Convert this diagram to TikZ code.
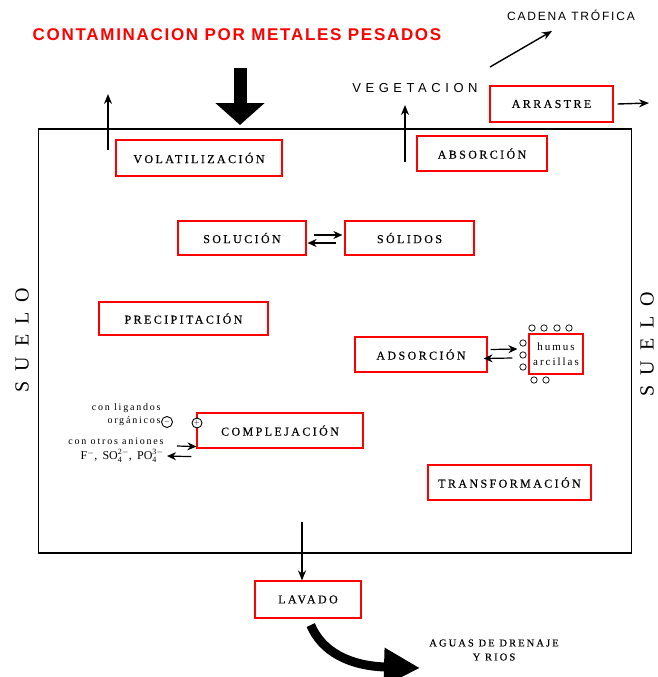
\documentclass[tikz,border=0pt]{standalone}
\usepackage{fontspec}
\setmainfont{Liberation Serif}
\newfontfamily\boxfont[LetterSpace=20,FakeBold=0.3]{Liberation Serif}
\newfontfamily\smallfont[LetterSpace=18]{Liberation Serif}
\newfontfamily\titlefont[LetterSpace=10]{Liberation Sans}
\newfontfamily\vegfont[LetterSpace=35]{Liberation Sans}
\newfontfamily\cadenafont[LetterSpace=15]{Liberation Sans}
\newfontfamily\suelofont[LetterSpace=50]{Liberation Serif}
\usetikzlibrary{arrows.meta}

\tikzset{
  caja/.style={draw=red, line width=1.2pt, rectangle, inner sep=0pt,
    font=\boxfont\fontsize{12}{14}\selectfont},
  flecha/.style={-{Stealth[length=10pt,width=8pt]}, line width=1.4pt},
  equil/.style={-{Stealth[length=9pt,width=8pt]}, line width=1.2pt},
}

\begin{document}
\begin{tikzpicture}[x=1pt, y=-1pt, thick]
        \useasboundingbox (0,0) rectangle (658,677);

        % Suelo
        \node (suelo) [draw, line width=1.6pt, minimum width=593pt, minimum height=424pt, inner sep=0pt] at (335,341) {};
        \node (sueloizq) [rotate=90, font=\suelofont\fontsize{20}{22}\selectfont] at (22,340) {SUELO};
        \node (sueloder) [rotate=90, font=\suelofont\fontsize{20}{22}\selectfont] at (647,344) {SUELO};

        % Titulos
        \node (titulo) [text=red, font=\titlefont\bfseries\fontsize{17}{19}\selectfont] at (237,35) {CONTAMINACION POR METALES PESADOS};
        \node (vegetacion) [font=\vegfont\fontsize{13}{15}\selectfont] at (415,88) {VEGETACION};
        \node (cadena) [font=\cadenafont\fontsize{12}{14}\selectfont] at (571,15) {CADENA TRÓFICA};

        % Cajas
        \node (volat) [caja, minimum width=166pt, minimum height=36pt] at (199,158) {VOLATILIZACIÓN};
        \node (absorc) [caja, minimum width=130pt, minimum height=35pt] at (482,153.5) {ABSORCIÓN};
        \node (arrastre) [caja, minimum width=123pt, minimum height=36pt] at (551.5,104) {ARRASTRE};
        \node (solucion) [caja, minimum width=128pt, minimum height=34pt] at (242,238) {SOLUCIÓN};
        \node (solidos) [caja, minimum width=129pt, minimum height=34pt] at (409.5,238) {SÓLIDOS};
        \node (precip) [caja, minimum width=169pt, minimum height=33pt] at (183.5,318.5) {PRECIPITACIÓN};
        \node (adsorc) [caja, minimum width=132pt, minimum height=35pt] at (421,354.5) {ADSORCIÓN};
        \node (humus) [caja, minimum width=54pt, minimum height=40pt, align=center, font=\smallfont\fontsize{11}{15}\selectfont] at (556,354) {humus\\arcillas};
        \node (complej) [caja, minimum width=166pt, minimum height=35pt] at (280,430.5) {COMPLEJACIÓN};
        \node (transf) [caja, minimum width=163pt, minimum height=35pt] at (509.5,482.5) {TRANSFORMACIÓN};
        \node (lavado) [caja, minimum width=106pt, minimum height=37pt] at (308,599.5) {LAVADO};
        \node (aguas) [align=center, font=\boxfont\fontsize{10.5}{14}\selectfont] at (494,650) {AGUAS DE DRENAJE\\Y RIOS};

        % Complejacion
        \node (ligandos) [anchor=east, align=right, inner sep=0pt, font=\smallfont\fontsize{10}{13}\selectfont] at (161,415) {con ligandos\\orgánicos};
        \node (menos) [draw, circle, line width=0.9pt, inner sep=0pt, minimum size=11pt, font=\scriptsize] at (167,422) {$-$};
        \node (mas) [draw, circle, fill=white, line width=0.9pt, inner sep=0pt, minimum size=10pt, font=\scriptsize] at (197,423) {$+$};
        \node (aniones) [anchor=east, align=right, inner sep=0pt, font=\smallfont\fontsize{10}{15}\selectfont] at (164,450) {con otros aniones\\\fontsize{12}{15}\selectfont$\mathrm{F^{-}}$,\ $\mathrm{SO_4^{2-}}$,\ $\mathrm{PO_4^{3-}}$};

        % Bolitas
        \foreach \x in {532,544,557,569}
            \draw[line width=0.7pt] (\x,328) circle (3.2pt);
        \foreach \y in {343,355,367}
            \draw[line width=0.7pt] (523,\y) circle (3.2pt);
        \foreach \x in {534,546}
            \draw[line width=0.7pt] (\x,380) circle (3.2pt);

        % Coordenadas
        \coordinate (caida) at (240,68);
        \coordinate (entrada) at (240,125);
        \coordinate (volat0) at (108,150);
        \coordinate (volat1) at (108,94);
        \coordinate (absorc0) at (405,162);
        \coordinate (absorc1) at (405,105);
        \coordinate (trofica0) at (490,67);
        \coordinate (trofica1) at (552,31);
        \coordinate (fuera) at (649,103);
        \coordinate (lavado0) at (302,522);

        % Flechas
        \draw[line width=13pt, -{Triangle[length=22pt,width=48pt]}] (caida) -- (entrada);
        \draw[flecha] (volat0) -- (volat1);
        \draw[flecha, line width=1.8pt] (absorc0) -- (absorc1);
        \draw[flecha] (trofica0) -- (trofica1);
        \draw[flecha] ([xshift=4pt]arrastre.east) -- (fuera);
        \draw[flecha] (lavado0) -- (lavado0 |- lavado.north);
        \draw[line width=9pt, -{Triangle[length=36pt,width=36pt]}, shorten <=7pt] (lavado.south) .. controls (322,652) and (350,666) .. (420,668);

        % Equilibrios
        \draw[equil] ([xshift=7pt,yshift=3pt]solucion.east) -- ([xshift=-2pt,yshift=3pt]solidos.west);
        \draw[equil] ([xshift=-8pt,yshift=-5pt]solidos.west) -- ([xshift=1pt,yshift=-5pt]solucion.east);
        \draw[equil] ([xshift=3pt,yshift=5pt]adsorc.east) -- ([xshift=-11pt,yshift=5pt]humus.west);
        \draw[equil] ([xshift=-16pt,yshift=-4pt]humus.west) -- ([xshift=-4pt,yshift=-4pt]adsorc.east);
        \draw[equil] ([xshift=13pt,yshift=4pt]aniones.east) -- ([yshift=2pt]complej.south west);
        \draw[equil] ([xshift=-5pt,yshift=-8pt]complej.south west) -- ([xshift=3pt,yshift=-6pt]aniones.east);
    \end{tikzpicture}
\end{document}
